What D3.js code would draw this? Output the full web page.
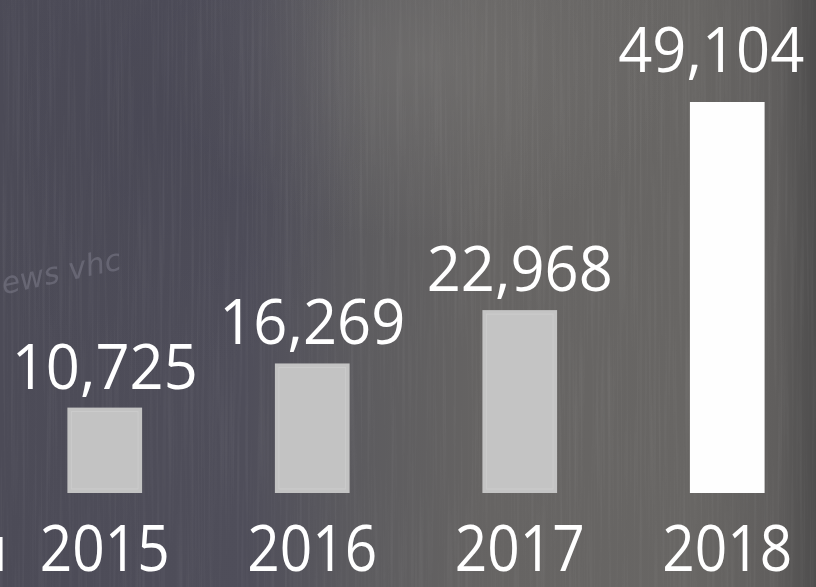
<!DOCTYPE html>
<html><head><meta charset="utf-8">
<script src="https://cdn.jsdelivr.net/npm/d3@7"></script>
<style>html,body{margin:0;padding:0;background:#555;}svg{display:block;}</style>
</head><body>
<script>
const years = ["2015","2016","2017","2018"];
const values = [10725, 16269, 22968, 49104];
const barColors = ["#c3c3c3","#c3c3c3","#c4c4c4","#fefefe"];

const W = 816, H = 587;
const svg = d3.select("body").append("svg").attr("width", W).attr("height", H);
const defs = svg.append("defs");

const lg = defs.append("linearGradient").attr("id","bg").attr("x1","0").attr("x2","1").attr("y1","0").attr("y2","0");
[[0,"#4c4b57"],[0.3,"#4f4e5a"],[0.45,"#5d5c5f"],[0.6,"#666463"],[0.85,"#686664"],[0.95,"#605e5d"],[1,"#4e4d4d"]]
  .forEach(([o,c])=>lg.append("stop").attr("offset",o).attr("stop-color",c));
svg.append("rect").attr("width",W).attr("height",H).attr("fill","url(#bg)");

const rg = defs.append("radialGradient").attr("id","glow").attr("cx","0.5").attr("cy","0.5").attr("r","0.5");
rg.append("stop").attr("offset",0).attr("stop-color","#7a7876").attr("stop-opacity",0.5);
rg.append("stop").attr("offset",1).attr("stop-color","#7a7876").attr("stop-opacity",0);
svg.append("ellipse").attr("cx",420).attr("cy",60).attr("rx",260).attr("ry",180).attr("fill","url(#glow)");

const rg2 = defs.append("radialGradient").attr("id","dark").attr("cx","0.5").attr("cy","0.5").attr("r","0.5");
rg2.append("stop").attr("offset",0).attr("stop-color","#474653").attr("stop-opacity",0.6);
rg2.append("stop").attr("offset",1).attr("stop-color","#474653").attr("stop-opacity",0);
svg.append("ellipse").attr("cx",150).attr("cy",120).attr("rx",220).attr("ry",260).attr("fill","url(#dark)");

// chalk streak texture
const f = defs.append("filter").attr("id","chalk").attr("x",0).attr("y",0).attr("width","100%").attr("height","100%");
f.append("feTurbulence").attr("type","fractalNoise").attr("baseFrequency","0.35 0.006").attr("numOctaves",2).attr("seed",3).attr("result","n");
f.append("feColorMatrix").attr("type","matrix")
  .attr("values","0 0 0 0 1  0 0 0 0 1  0 0 0 0 1  0 0 0.9 0 -0.4");
svg.append("rect").attr("width",W).attr("height",H).attr("filter","url(#chalk)").attr("opacity",0.12);

// faint chalk scribble
svg.append("text").attr("x",0).attr("y",282).attr("font-family","DejaVu Sans").attr("font-size",30)
  .attr("font-style","italic").attr("fill","#a9a8b8").attr("opacity",0.28)
  .attr("transform","rotate(-12,60,270)").text("ews vhc");

const x = d3.scaleBand().domain(years).range([1, 831]).paddingInner(0.64).paddingOuter(0.32);
const y = d3.scaleLinear().domain([0, 49104]).range([493, 102]);

const font = "'Open Sans', Lato, sans-serif";

svg.selectAll("rect.bar").data(years).enter().append("rect").attr("class","bar")
  .attr("x", d=>x(d)).attr("width", x.bandwidth())
  .attr("y", (d,i)=>y(values[i])).attr("height",(d,i)=>y(0)-y(values[i]))
  .attr("fill",(d,i)=>barColors[i]);

// inner faint edge lines on grey bars
svg.selectAll("rect.inner").data(years.slice(0,3)).enter().append("rect")
  .attr("x", d=>x(d)+4).attr("width", x.bandwidth()-8)
  .attr("y", (d,i)=>y(values[i])+4).attr("height",(d,i)=>y(0)-y(values[i])-8)
  .attr("fill","none").attr("stroke","#d2d2d2").attr("stroke-width",1).attr("opacity",0.6);

const fmt = d3.format(",");
svg.selectAll("text.val").data(years).enter().append("text").attr("class","val")
  .attr("x", d=>x(d)+x.bandwidth()/2 - (d==="2018"?16:0))
  .attr("y", (d,i)=>y(values[i]) - (d==="2018"?30:19))
  .attr("text-anchor","middle").attr("font-family",font).attr("font-size",62)
  .attr("fill","#ffffff").attr("textLength",186).attr("lengthAdjust","spacingAndGlyphs")
  .text((d,i)=>fmt(values[i]));

svg.selectAll("text.yr").data(years).enter().append("text").attr("class","yr")
  .attr("x", d=>x(d)+x.bandwidth()/2)
  .attr("y", 571)
  .attr("text-anchor","middle").attr("font-family",font).attr("font-size",64)
  .attr("fill","#ffffff").attr("textLength",130).attr("lengthAdjust","spacingAndGlyphs")
  .text(d=>d);

svg.append("text").attr("x",8).attr("y",571).attr("text-anchor","end")
  .attr("font-family",font).attr("font-size",64).attr("fill","#ffffff").text("u");
</script>
</body></html>
